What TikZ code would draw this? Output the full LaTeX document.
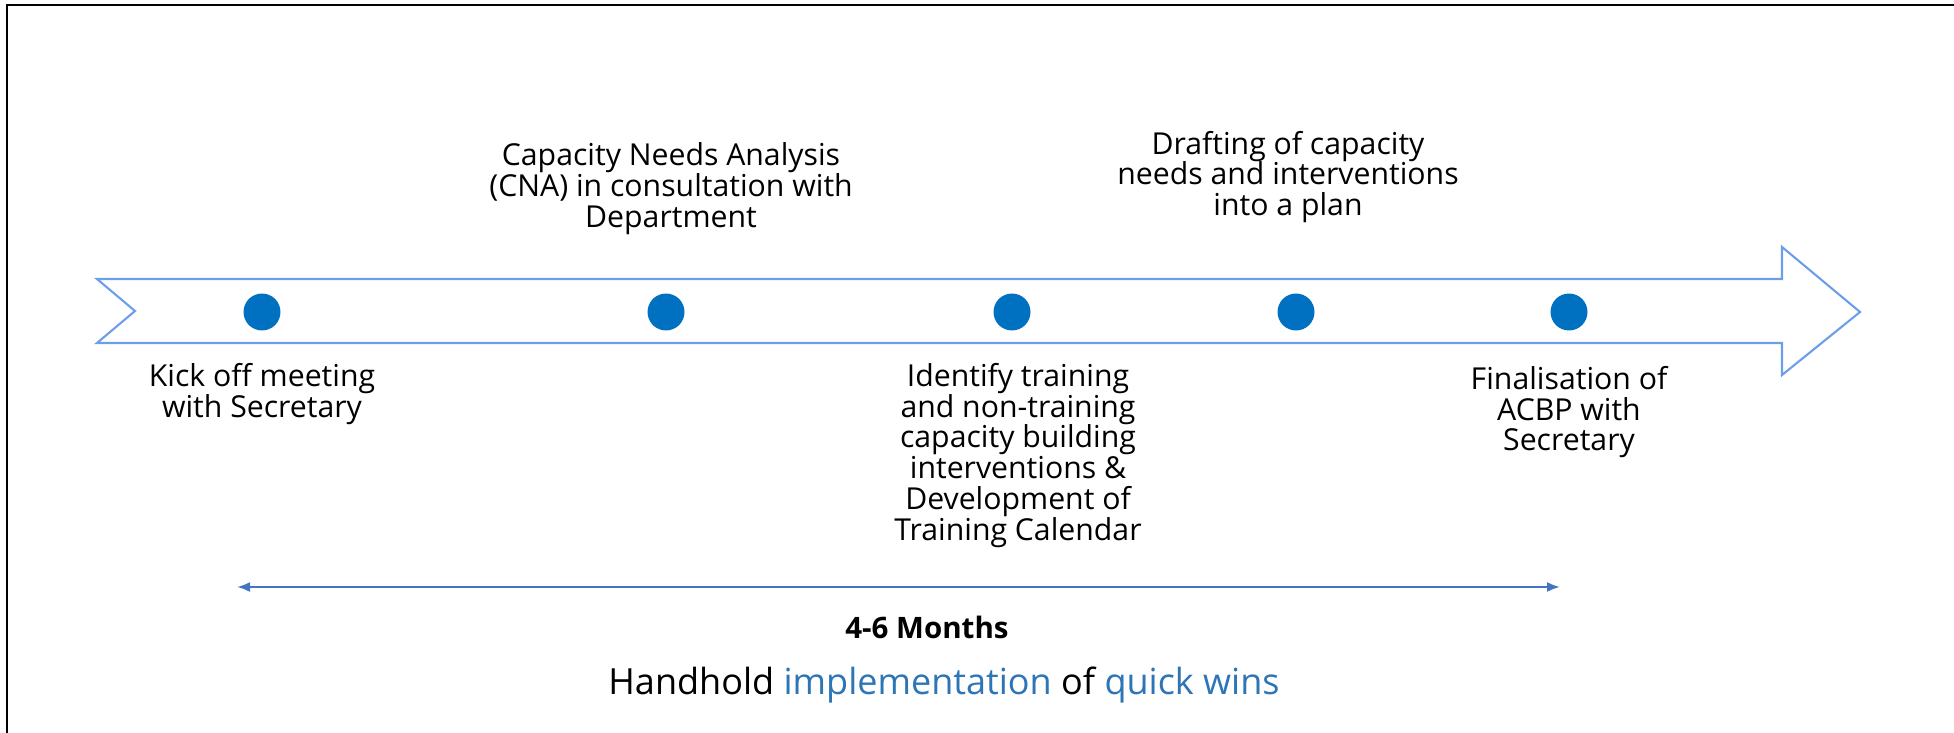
\documentclass[tikz,border=0pt]{standalone}
\usepackage{fontspec}
\setmainfont{Open Sans}
\usepackage{xcolor}
\usetikzlibrary{positioning, arrows.meta}

\definecolor{dotblue}{HTML}{0070C0}
\definecolor{bandblue}{HTML}{6D9EEB}
\definecolor{spanblue}{HTML}{4472C4}
\definecolor{wordblue}{HTML}{2E75B6}

\begin{document}
\begin{tikzpicture}[
        x=0.02cm, y=-0.02cm,
        milestone/.style={circle, fill=dotblue, minimum size=0.74cm, inner sep=0pt},
        steptext/.style={font=\fontsize{17.2}{17.5}\selectfont, align=center, inner sep=0pt},
        band/.style={draw=bandblue, line width=1.2pt, line join=miter},
        span/.style={draw=spanblue, line width=1.2pt, {Latex[length=0.26cm, width=0.2cm]}-{Latex[length=0.26cm, width=0.2cm]}}
        ]

        \useasboundingbox (0,0) rectangle (1954,733);
        \draw [line width=1.7pt] (7,733) -- (7,5) -- (1954,5);

        % timeline band
        \draw [band] (97,279) -- (1782,279) -- (1782,247) -- (1860,312) -- (1782,375)
            -- (1782,343) -- (97,343) -- (135,311) -- cycle;

        \node (kickoff) [milestone] at (262,312) {};
        \node (cna) [milestone] at (666,312) {};
        \node (identify) [milestone] at (1012,312) {};
        \node (drafting) [milestone] at (1296,312) {};
        \node (final) [milestone] at (1569,312) {};

        \node (kickofftext) [steptext, below=0.64cm of kickoff] {Kick off meeting\\with Secretary};
        \node (cnatext) [steptext, above=1.17cm of cna, xshift=0.1cm] {Capacity Needs Analysis\\(CNA) in consultation with\\Department};
        \node (identifytext) [steptext, below=0.64cm of identify, xshift=0.12cm] {Identify training\\and non-training\\capacity building\\interventions \&\\Development of\\Training Calendar};
        \node (draftingtext) [steptext, above=1.4cm of drafting, xshift=-0.16cm] {Drafting of capacity\\needs and interventions\\into a plan};
        \node (finaltext) [steptext, below=0.7cm of final] {Finalisation of\\ACBP with\\Secretary};

        % duration
        \coordinate (spanstart) at (237,587);
        \coordinate (spanend) at (1560,587);
        \draw [span] (spanstart) -- (spanend);

        \node (months) [font=\fontsize{16.8}{20}\selectfont\bfseries] at (927,627) {4-6 Months};
        \node (handhold) [font=\fontsize{20.5}{24}\selectfont] at (944,685) {Handhold \textcolor{wordblue}{implementation} of \textcolor{wordblue}{quick wins}};

    \end{tikzpicture}
\end{document}
